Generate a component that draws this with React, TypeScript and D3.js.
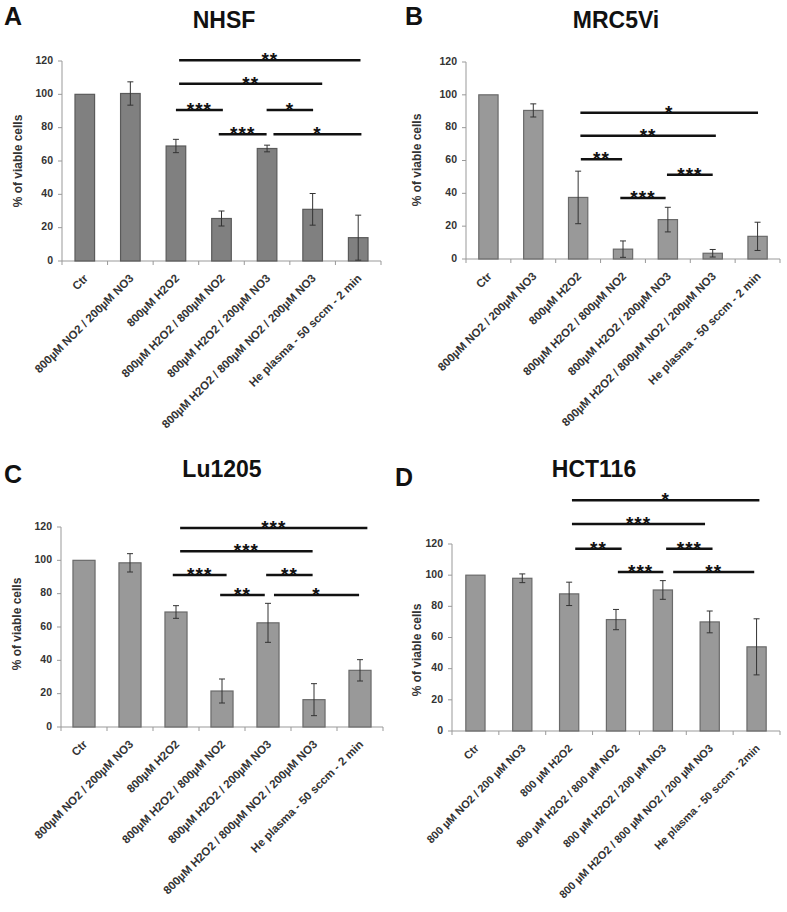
import React from "react";
import * as d3 from "d3";

const categoriesABC = [
  "Ctr",
  "800µM NO2 / 200µM NO3",
  "800µM H2O2",
  "800µM H2O2 / 800µM NO2",
  "800µM H2O2 / 200µM NO3",
  "800µM H2O2 / 800µM NO2 / 200µM NO3",
  "He plasma - 50 sccm - 2 min",
];
const categoriesD = [
  "Ctr",
  "800 µM NO2 / 200 µM NO3",
  "800 µM H2O2",
  "800 µM H2O2 / 800 µM NO2",
  "800 µM H2O2 / 200 µM NO3",
  "800 µM H2O2 / 800 µM NO2 / 200 µM NO3",
  "He plasma - 50 sccm - 2min",
];
const yTicks = [0, 20, 40, 60, 80, 100, 120];

const valuesA = [100, 100.5, 69, 25.5, 67.5, 31, 14];
const errorsA = [0, 7, 4, 4.5, 2, 9.5, 13.5];
const valuesB = [100, 90.5, 37.5, 6, 24, 3.5, 13.8];
const errorsB = [0, 4, 16, 5, 7.5, 2.3, 8.6];
const valuesC = [100, 98.5, 69, 21.6, 62.5, 16.4, 34];
const errorsC = [0, 5.5, 3.8, 7.2, 11.7, 9.6, 6.4];
const valuesD = [100, 98, 88, 71.5, 90.5, 70, 54];
const errorsD = [0, 2.8, 7.5, 6.5, 6, 7, 18];

type Sig = { from: number; to: number; y: number; label: string };
const sigA: Sig[] = [
  { from: 2.07, to: 6.05, y: 120.4, label: "**" },
  { from: 2.07, to: 5.21, y: 106.4, label: "**" },
  { from: 2.0, to: 3.03, y: 90.6, label: "***" },
  { from: 3.99, to: 5.01, y: 90.6, label: "*" },
  { from: 2.94, to: 3.99, y: 76.1, label: "***" },
  { from: 4.14, to: 6.07, y: 76.1, label: "*" },
];
const sigB: Sig[] = [
  { from: 2.05, to: 6.01, y: 89.1, label: "*" },
  { from: 2.05, to: 5.07, y: 75.1, label: "**" },
  { from: 2.06, to: 2.98, y: 60.7, label: "**" },
  { from: 3.98, to: 5.0, y: 51.3, label: "***" },
  { from: 2.94, to: 3.95, y: 37.1, label: "***" },
];
const sigC: Sig[] = [
  { from: 2.09, to: 6.16, y: 119.4, label: "***" },
  { from: 2.09, to: 4.97, y: 105.4, label: "***" },
  { from: 1.93, to: 3.1, y: 91.2, label: "***" },
  { from: 3.96, to: 4.97, y: 91.2, label: "**" },
  { from: 2.96, to: 3.93, y: 79.2, label: "**" },
  { from: 4.13, to: 5.98, y: 79.2, label: "*" },
];
const sigD: Sig[] = [
  { from: 2.06, to: 6.06, y: 148.1, label: "*" },
  { from: 2.06, to: 4.9, y: 132.9, label: "***" },
  { from: 2.13, to: 3.12, y: 117, label: "**" },
  { from: 4.07, to: 5.06, y: 117, label: "***" },
  { from: 3.04, to: 4.01, y: 102, label: "***" },
  { from: 4.22, to: 5.95, y: 102, label: "**" },
];

const FONT = "'Liberation Sans', Arial, sans-serif";

type PanelProps = {
  letter: string;
  title: string;
  categories: string[];
  values: number[];
  errors: number[];
  sigs: Sig[];
  axisX: number;
  xEnd: number;
  y0: number;
  y120: number;
  titleX: number;
  titleY: number;
  letterX: number;
  letterY: number;
  yTitleX: number;
  yTitleY: number;
  barFrac: number;
  fill: string;
  stroke: string;
  labelSize: number;
};

function Panel(p: PanelProps) {
  const x = d3.scaleLinear().domain([-0.5, p.categories.length - 0.5]).range([p.axisX, p.xEnd]);
  const y = d3.scaleLinear().domain([0, 120]).range([p.y0, p.y120]);
  const step = x(1) - x(0);
  const bw = step * p.barFrac;
  const boundaries = d3.range(p.categories.length + 1).map((i) => i - 0.5);
  return (
    <g>
      <text x={p.letterX} y={p.letterY} fontFamily={FONT} fontWeight="bold" fontSize={25} fill="#111">
        {p.letter}
      </text>
      <text x={p.titleX} y={p.titleY} fontFamily={FONT} fontWeight="bold" fontSize={23} textAnchor="middle" fill="#111">
        {p.title}
      </text>
      <text
        transform={`translate(${p.yTitleX},${p.yTitleY}) rotate(-90)`}
        fontFamily={FONT}
        fontWeight="bold"
        fontSize={12}
        textAnchor="middle"
        dominantBaseline="middle"
        fill="#333"
      >
        % of viable cells
      </text>
      <line x1={p.axisX} x2={p.axisX} y1={y(0)} y2={y(120)} stroke="#999" strokeWidth={1} />
      {yTicks.map((t) => (
        <g key={t}>
          <line x1={p.axisX - 4} x2={p.axisX} y1={y(t)} y2={y(t)} stroke="#999" />
          <text
            x={p.axisX - 9}
            y={y(t)}
            fontFamily={FONT}
            fontWeight="bold"
            fontSize={10.5}
            textAnchor="end"
            dominantBaseline="middle"
            fill="#333"
          >
            {t}
          </text>
        </g>
      ))}
      <line x1={p.axisX} x2={p.xEnd} y1={y(0)} y2={y(0)} stroke="#999" />
      {boundaries.map((b) => (
        <line key={b} x1={x(b)} x2={x(b)} y1={y(0)} y2={y(0) + 4} stroke="#999" />
      ))}
      {p.values.map((v, i) => (
        <rect
          key={i}
          x={x(i) - bw / 2}
          y={y(v)}
          width={bw}
          height={y(0) - y(v)}
          fill={p.fill}
          stroke={p.stroke}
          strokeWidth={1.2}
        />
      ))}
      {p.values.map((v, i) =>
        p.errors[i] > 0 ? (
          <g key={i} stroke="#333" strokeWidth={1}>
            <line x1={x(i)} x2={x(i)} y1={y(v + p.errors[i])} y2={y(Math.max(0, v - p.errors[i]))} />
            <line x1={x(i) - 3} x2={x(i) + 3} y1={y(v + p.errors[i])} y2={y(v + p.errors[i])} />
            <line
              x1={x(i) - 3}
              x2={x(i) + 3}
              y1={y(Math.max(0, v - p.errors[i]))}
              y2={y(Math.max(0, v - p.errors[i]))}
            />
          </g>
        ) : null
      )}
      {p.categories.map((c, i) => (
        <text
          key={c}
          transform={`translate(${x(i) + 4},${y(0) + 18}) rotate(-45)`}
          fontFamily={FONT}
          fontWeight="bold"
          fontSize={p.labelSize}
          textAnchor="end"
          fill="#333"
        >
          {c}
        </text>
      ))}
      {p.sigs.map((s, i) => (
        <g key={i}>
          <line x1={x(s.from)} x2={x(s.to)} y1={y(s.y)} y2={y(s.y)} stroke="#111" strokeWidth={2.5} />
          <text
            x={(x(s.from) + x(s.to)) / 2}
            y={y(s.y) + 6}
            fontFamily={FONT}
            fontWeight="bold"
            fontSize={19}
            letterSpacing={1}
            textAnchor="middle"
            fill="#111"
          >
            {s.label}
          </text>
        </g>
      ))}
    </g>
  );
}

export default function App() {
  return (
    <svg
      width={787}
      height={912}
      style={{ position: "absolute", left: 0, top: 0, background: "#fff" }}
    >
      <rect width={787} height={912} fill="#fff" />
      <Panel
        letter="A" title="NHSF" categories={categoriesABC} values={valuesA} errors={errorsA} sigs={sigA}
        axisX={62} xEnd={381} y0={261} y120={61} titleX={224} titleY={28} letterX={4} letterY={25}
        yTitleX={19} yTitleY={161} barFrac={0.43} fill="#808080" stroke="#5a5a5a" labelSize={11.5}
      />
      <Panel
        letter="B" title="MRC5Vi" categories={categoriesABC} values={valuesB} errors={errorsB} sigs={sigB}
        axisX={466} xEnd={780} y0={259} y120={62} titleX={616} titleY={28} letterX={405} letterY={25}
        yTitleX={418} yTitleY={160} barFrac={0.43} fill="#999999" stroke="#6a6a6a" labelSize={11.5}
      />
      <Panel
        letter="C" title="Lu1205" categories={categoriesABC} values={valuesC} errors={errorsC} sigs={sigC}
        axisX={61} xEnd={383} y0={727} y120={527} titleX={222} titleY={477} letterX={4} letterY={483}
        yTitleX={18} yTitleY={624} barFrac={0.48} fill="#999999" stroke="#6a6a6a" labelSize={11.5}
      />
      <Panel
        letter="D" title="HCT116" categories={categoriesD} values={valuesD} errors={errorsD} sigs={sigD}
        axisX={452} xEnd={780} y0={731} y120={544} titleX={594} titleY={477} letterX={395} letterY={486}
        yTitleX={418} yTitleY={650} barFrac={0.41} fill="#999999" stroke="#6a6a6a" labelSize={11}
      />
    </svg>
  );
}
